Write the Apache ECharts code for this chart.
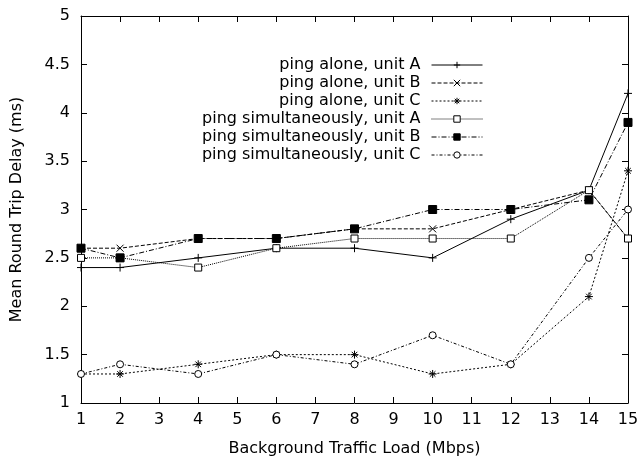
<!DOCTYPE html>
<html>
<head>
<meta charset="utf-8">
<script src="https://cdn.jsdelivr.net/npm/echarts@6/dist/echarts.min.js"></script>
<style>html,body{margin:0;padding:0;background:#fff}#c{width:639px;height:460px}</style>
</head>
<body>
<div id="c"></div>
<script>
const loads = [1, 2, 4, 6, 8, 10, 12, 14, 15];
const aloneA = [2.4, 2.4, 2.5, 2.6, 2.6, 2.5, 2.9, 3.2, 4.2];
const aloneB = [2.6, 2.6, 2.7, 2.7, 2.8, 2.8, 3.0, 3.2, 2.7];
const aloneC = [1.3, 1.3, 1.4, 1.5, 1.5, 1.3, 1.4, 2.1, 3.4];
const simA = [2.5, 2.5, 2.4, 2.6, 2.7, 2.7, 2.7, 3.2, 2.7];
const simB = [2.6, 2.5, 2.7, 2.7, 2.8, 3.0, 3.0, 3.1, 3.9];
const simC = [1.3, 1.4, 1.3, 1.5, 1.4, 1.7, 1.4, 2.5, 3.0];
const seriesNames = ['ping alone, unit A', 'ping alone, unit B', 'ping alone, unit C',
  'ping simultaneously, unit A', 'ping simultaneously, unit B', 'ping simultaneously, unit C'];
const xTitle = 'Background Traffic Load (Mbps)';
const yTitle = 'Mean Round Trip Delay (ms)';

const FONT = 'DejaVu Sans';
const pair = arr => loads.map((x, i) => [x, arr[i]]);
const PLUS = 'path://M0,5L10,5M5,0L5,10';
const CROSS = 'path://M0,0L10,10M0,10L10,0';
const STAR = 'path://M0,5L10,5M5,0L5,10M1.5,1.5L8.5,8.5M1.5,8.5L8.5,1.5';

function mk(name, data, symbol, size, dash, filled) {
  return {
    name, type: 'line', data: pair(data), symbol, symbolSize: size,
    lineStyle: { color: '#000', width: 1, type: dash },
    itemStyle: { color: filled ? '#000' : '#fff', borderColor: '#000', borderWidth: 1 },
    emphasis: { disabled: true },
    animation: false, z: 3
  };
}

const chart = echarts.init(document.getElementById('c'), null, { renderer: 'canvas' });
const axisCommon = {
  axisLine: { show: true, onZero: false, lineStyle: { color: '#000', width: 1 } },
  axisTick: { show: true, inside: true, length: 6, lineStyle: { color: '#000' } },
  splitLine: { show: false }
};
chart.setOption({
  animation: false,
  backgroundColor: '#fff',
  grid: { left: 81, right: 11, top: 16, bottom: 57, containLabel: false, outerBoundsMode: 'none' },
  legend: {
    orient: 'vertical', right: 156, top: 57, padding: 0,
    align: 'right', itemWidth: 51, itemHeight: 8, itemGap: 2,
    lineStyle: { width: 1 },
    itemStyle: { borderWidth: 1 },
    textStyle: { fontFamily: FONT, fontSize: 16, color: '#000', padding: [0, 6, 0, 0] },
    data: seriesNames
  },
  xAxis: [
    Object.assign({
      type: 'value', min: 1, max: 15, interval: 1, position: 'bottom',
      name: xTitle, nameLocation: 'middle', nameGap: 38,
      nameTextStyle: { fontFamily: FONT, fontSize: 16, color: '#000' },
      axisLabel: { fontFamily: FONT, fontSize: 16, color: '#000', margin: 9 }
    }, axisCommon),
    Object.assign({
      type: 'value', min: 1, max: 15, interval: 1, position: 'top',
      axisLabel: { show: false }
    }, axisCommon)
  ],
  yAxis: [
    Object.assign({
      type: 'value', min: 1, max: 5, interval: 0.5, position: 'left',
      name: yTitle, nameLocation: 'middle', nameGap: 56, nameRotate: 90,
      nameTextStyle: { fontFamily: FONT, fontSize: 16, color: '#000' },
      axisLabel: { fontFamily: FONT, fontSize: 16, color: '#000', margin: 11 }
    }, axisCommon),
    Object.assign({
      type: 'value', min: 1, max: 5, interval: 0.5, position: 'right',
      axisLabel: { show: false }
    }, axisCommon)
  ],
  series: [
    mk(seriesNames[0], aloneA, PLUS, 8, 'solid', true),
    mk(seriesNames[1], aloneB, CROSS, 7, [4, 2], true),
    mk(seriesNames[2], aloneC, STAR, 8, [2, 2], true),
    mk(seriesNames[3], simA, 'rect', 7, [1, 1], false),
    mk(seriesNames[4], simB, 'rect', 8, [5, 2, 1, 2], true),
    mk(seriesNames[5], simC, 'circle', 7, [3, 2, 1, 2], false)
  ]
});
</script>
</body>
</html>
